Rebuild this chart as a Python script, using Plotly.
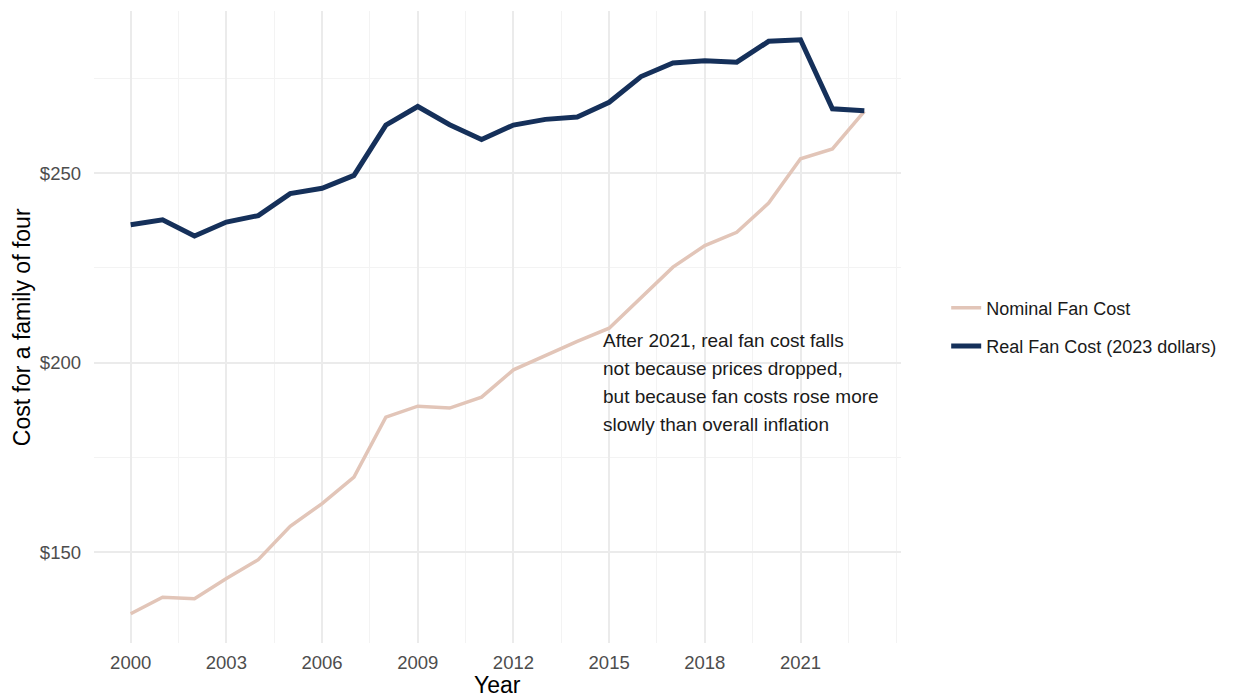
import plotly.graph_objects as go

years = list(range(2000, 2024))
nominal_cost = [133.7, 138.1, 137.7, 143.0, 148.0, 156.8, 162.8, 169.8, 185.6, 188.5,
                188.0, 190.9, 198.1, 201.9, 205.6, 209.1, 217.3, 225.2, 230.9, 234.4,
                242.1, 253.8, 256.4, 266.3]
real_cost = [236.4, 237.7, 233.4, 237.1, 238.8, 244.6, 246.0, 249.4, 262.7, 267.6,
             262.8, 258.9, 262.7, 264.2, 264.8, 268.7, 275.5, 279.1, 279.7, 279.3,
             284.8, 285.2, 267.0, 266.5]
series_names = ["Nominal Fan Cost", "Real Fan Cost (2023 dollars)"]
x_ticks = [2000, 2003, 2006, 2009, 2012, 2015, 2018, 2021]
y_ticks = [150, 200, 250]
y_tick_labels = ["$150", "$200", "$250"]
note_lines = ["After 2021, real fan cost falls",
              "not because prices dropped,",
              "but because fan costs rose more",
              "slowly than overall inflation"]
note_x = 2014.75
note_y = [205.8, 198.4, 191.0, 183.6]

FONT = "Liberation Sans, Arial, sans-serif"

fig = go.Figure()
fig.add_trace(go.Scatter(x=years, y=nominal_cost, mode="lines", name=series_names[0],
                         line=dict(color="#E2C5B8", width=3.5), legendgroup="a"))
fig.add_trace(go.Scatter(x=years, y=real_cost, mode="lines", name=series_names[1],
                         line=dict(color="#15305A", width=5), legendgroup="b"))

for txt, yy in zip(note_lines, note_y):
    fig.add_annotation(x=note_x, y=yy, text=txt, showarrow=False, xanchor="left",
                       yanchor="middle", font=dict(family=FONT, size=19, color="#1a1a1a"))

# axis titles
fig.add_annotation(xref="paper", yref="paper", x=-0.089, y=0.5, text="Cost for a family of four",
                   textangle=-90, showarrow=False, xanchor="center", yanchor="middle",
                   font=dict(family=FONT, size=23, color="#000"))
fig.add_annotation(xref="paper", yref="paper", x=0.5, y=-0.067, text="Year",
                   showarrow=False, xanchor="center", yanchor="middle",
                   font=dict(family=FONT, size=23, color="#000"))

fig.update_layout(
    width=1230, height=690,
    margin=dict(l=86, r=337, t=3, b=55, autoexpand=False),
    paper_bgcolor="white", plot_bgcolor="white",
    font=dict(family=FONT),
    showlegend=True,
    legend=dict(x=1.056, y=0.5, xanchor="left", yanchor="middle",
                font=dict(family=FONT, size=18, color="#1a1a1a"),
                tracegroupgap=12, bgcolor="rgba(0,0,0,0)"),
    xaxis=dict(range=[1998.85, 2024.15], tickmode="array", tickvals=x_ticks,
               ticktext=[str(v) for v in x_ticks], showgrid=True,
               gridcolor="#EBEBEB", gridwidth=1.6, zeroline=False, showline=False,
               ticks="", ticklabelstandoff=6,
               tickfont=dict(family=FONT, size=18.5, color="#4D4D4D"),
               minor=dict(tick0=2000, dtick=1.5, showgrid=True, gridcolor="#F3F3F3", gridwidth=1)),
    yaxis=dict(range=[126.0, 292.8], tickmode="array", tickvals=y_ticks,
               ticktext=y_tick_labels, showgrid=True,
               gridcolor="#EBEBEB", gridwidth=1.6, zeroline=False, showline=False,
               ticks="", ticklabelstandoff=12,
               tickfont=dict(family=FONT, size=18.5, color="#4D4D4D"),
               minor=dict(tick0=150, dtick=25, showgrid=True, gridcolor="#F3F3F3", gridwidth=1)),
)

fig.write_html("out.html")
